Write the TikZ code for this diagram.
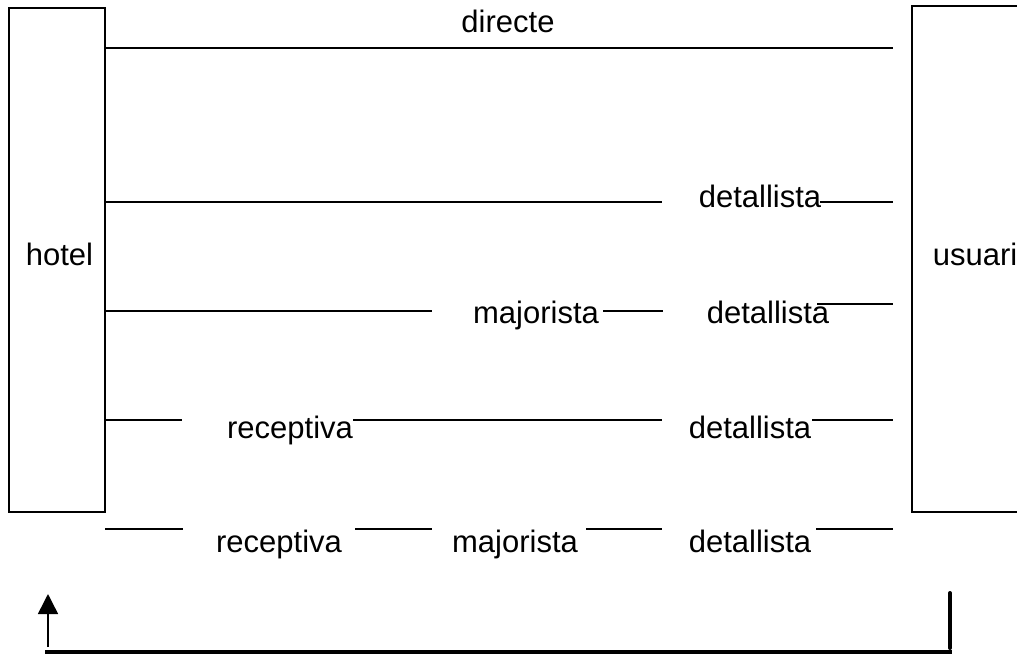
\documentclass[tikz,border=0pt]{standalone}
\usepackage{fontspec}
\setmainfont{Liberation Sans}
\usetikzlibrary{arrows.meta}
\begin{document}
\begin{tikzpicture}[x=1pt,y=-1pt,
  lbl/.style={anchor=base,inner sep=0pt,font=\fontsize{31}{37}\selectfont},
  boxnode/.style={draw,line width=1.2pt,rectangle,inner sep=0pt,font=\fontsize{31}{37}\selectfont},
  ln/.style={line width=1.2pt},
  thk/.style={line width=2.8pt},
  heavy/.style={line width=4pt,line cap=round}]
\useasboundingbox (0,0) rectangle (1017,654);
\clip (0,0) rectangle (1017,654);
% boxes
\node[boxnode,minimum width=96pt,minimum height=504pt,text height=22pt,text depth=12pt] (hotel) at (57,260) {\hspace*{5pt}hotel};
\node[boxnode,minimum width=126pt,minimum height=506pt,text height=22pt,text depth=10pt] (usuari) at (975,259) {usuari};
% labels
\node[lbl] (directe) at (508,32) {directe};
\node[lbl] (det2) at (760,207) {detallista};
\node[lbl] (maj3) at (536,323) {majorista};
\node[lbl] (det3) at (768,323) {detallista};
\node[lbl] (rec4) at (290,438) {receptiva};
\node[lbl] (det4) at (750,438) {detallista};
\node[lbl] (rec5) at (279,552) {receptiva};
\node[lbl] (maj5) at (515,552) {majorista};
\node[lbl] (det5) at (750,552) {detallista};
% coordinates
\coordinate (r1a) at (893,48);
\coordinate (r2a) at (662,202);
\coordinate (r2b) at (820,202);
\coordinate (r2c) at (893,202);
\coordinate (r3a) at (432,311);
\coordinate (r3b) at (603,311);
\coordinate (r3c) at (663,311);
\coordinate (r3d) at (817,304);
\coordinate (r3e) at (893,304);
\coordinate (r4a) at (182,420);
\coordinate (r4b) at (353,420);
\coordinate (r4c) at (662,420);
\coordinate (r4d) at (812,420);
\coordinate (r4e) at (893,420);
\coordinate (r5s) at (105,529);
\coordinate (r5a) at (183,529);
\coordinate (r5b) at (355,529);
\coordinate (r5c) at (432,529);
\coordinate (r5d) at (586,529);
\coordinate (r5e) at (662,529);
\coordinate (r5f) at (816,529);
\coordinate (r5g) at (893,529);
\coordinate (arrB) at (48,647);
\coordinate (arrT) at (48,594);
\coordinate (botL) at (45,652);
\coordinate (botR) at (952,652);
\coordinate (vB) at (950,648);
\coordinate (vT) at (950,593);
% row 1
\draw[ln] (hotel.east |- r1a) -- (r1a);
% row 2
\draw[ln] (hotel.east |- r2a) -- (r2a);
\draw[ln] (r2b) -- (r2c);
% row 3
\draw[thk] (hotel.east |- r3a) -- (r3a);
\draw[thk] (r3b) -- (r3c);
\draw[ln] (r3d) -- (r3e);
% row 4
\draw[ln] (hotel.east |- r4a) -- (r4a);
\draw[ln] (r4b) -- (r4c);
\draw[ln] (r4d) -- (r4e);
% row 5
\draw[ln] (r5s) -- (r5a);
\draw[ln] (r5b) -- (r5c);
\draw[ln] (r5d) -- (r5e);
\draw[ln] (r5f) -- (r5g);
% bottom
\draw[line width=1.5pt,-{Triangle[width=20pt,length=20pt]}] (arrB) -- (arrT);
\draw[line width=4pt] (botL) -- (botR);
\draw[heavy] (vB) -- (vT);
\end{tikzpicture}
\end{document}
